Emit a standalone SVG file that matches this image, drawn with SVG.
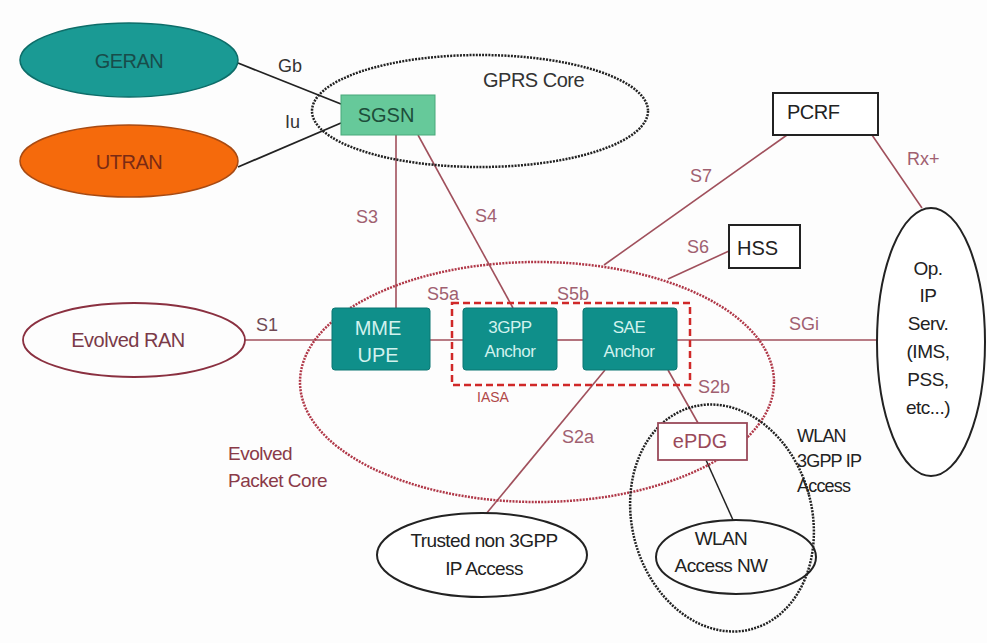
<svg xmlns="http://www.w3.org/2000/svg" width="987" height="643" viewBox="0 0 987 643">
<style>
text{font-family:"Liberation Sans",Arial,sans-serif;}
.lbl{font-size:18px;fill:#a06070;}
.dark{fill:#222;}
.mid{text-anchor:middle;}
.red{stroke:#a0505c;stroke-width:1.6;fill:none;}
.blk{stroke:#222;stroke-width:1.8;fill:none;}
.teal{fill:#0f8f8a;stroke:#0b7773;stroke-width:1;}
.boxt{fill:#d2f2ee;text-anchor:middle;}
.wbox{fill:#fff;stroke:#222;stroke-width:2;}
</style>
<rect width="987" height="643" fill="#fdfdfd"/>

<g id="connectors">
  <line class="blk" x1="238" y1="63" x2="341" y2="104"/>
  <line class="blk" x1="238" y1="167" x2="341" y2="123"/>
  <line class="red" x1="245" y1="340" x2="332" y2="340"/>
  <line class="red" x1="430" y1="340" x2="463" y2="340"/>
  <line class="red" x1="557" y1="340" x2="583" y2="340"/>
  <line class="red" x1="677" y1="340" x2="877" y2="340"/>
  <line class="red" x1="396" y1="135" x2="396" y2="308"/>
  <line class="red" x1="418" y1="135" x2="513" y2="308"/>
  <line class="red" x1="787" y1="135" x2="604" y2="265"/>
  <line class="red" x1="872" y1="135" x2="922" y2="208"/>
  <line class="red" x1="729" y1="251" x2="668" y2="279"/>
  <line class="red" x1="668" y1="370" x2="698" y2="423"/>
  <line class="red" x1="605" y1="370" x2="486" y2="514"/>
  <line stroke="#222" stroke-width="1.5" x1="706" y1="460" x2="733" y2="520"/>
  <text class="lbl" x="278" y="72" style="fill:#333">Gb</text>
  <text class="lbl" x="285" y="128" style="fill:#333">Iu</text>
  <text class="lbl" x="256" y="331" style="fill:#704a55">S1</text>
  <text class="lbl" x="356" y="223">S3</text>
  <text class="lbl" x="475" y="222">S4</text>
  <text class="lbl" x="427" y="300">S5a</text>
  <text class="lbl" x="557" y="300">S5b</text>
  <text class="lbl" x="690" y="182">S7</text>
  <text class="lbl" x="687" y="253">S6</text>
  <text class="lbl" x="907" y="165">Rx+</text>
  <text class="lbl" x="789" y="330">SGi</text>
  <text class="lbl" x="698" y="393">S2b</text>
  <text class="lbl" x="562" y="443">S2a</text>
</g>

<g id="gprs-core">
  <ellipse cx="480" cy="111" rx="168" ry="56" fill="none" stroke="#222" stroke-width="2.5" stroke-dasharray="2 1.2"/>
  <text x="483" y="87" font-size="20" fill="#333" letter-spacing="-0.5">GPRS Core</text>
</g>

<g id="epc">
  <ellipse cx="537" cy="382" rx="237" ry="120" fill="none" stroke="#b03848" stroke-width="2.5" stroke-dasharray="2 1.2"/>
  <text x="228" y="460" font-size="19" fill="#8a3a48" letter-spacing="-0.5">Evolved</text>
  <text x="228" y="487" font-size="19" fill="#8a3a48" letter-spacing="-0.5">Packet Core</text>
</g>

<g id="wlan-3gpp-ip-access">
  <ellipse cx="722" cy="518" rx="90" ry="115" transform="rotate(-15 722 518)" fill="none" stroke="#222" stroke-width="2.5" stroke-dasharray="2 1.2"/>
  <text x="797" y="442" font-size="18" fill="#222" letter-spacing="-0.8">WLAN</text>
  <text x="797" y="467" font-size="18" fill="#222" letter-spacing="-0.8">3GPP IP</text>
  <text x="797" y="492" font-size="18" fill="#222" letter-spacing="-0.8">Access</text>
</g>

<g id="iasa">
  <rect x="452" y="303" width="238" height="82" fill="none" stroke="#d02828" stroke-width="2.5" stroke-dasharray="7 4"/>
  <text x="477" y="402" font-size="14" fill="#b04848">IASA</text>
</g>

<g id="geran">
  <ellipse cx="129" cy="60" rx="109" ry="37" fill="#1a9a94" stroke="#0d6d69" stroke-width="1.5"/>
  <text class="mid" x="129" y="68" font-size="20" fill="#184c4a" letter-spacing="-0.5">GERAN</text>
</g>

<g id="utran">
  <ellipse cx="129" cy="161" rx="109" ry="36" fill="#f56a0c" stroke="#a84a12" stroke-width="1.5"/>
  <text class="mid" x="129" y="169" font-size="20" fill="#7a2a14" letter-spacing="-0.5">UTRAN</text>
</g>

<g id="sgsn">
  <rect x="341" y="95" width="94" height="40" fill="#66c99a" stroke="#48a87a" stroke-width="1"/>
  <text class="mid" x="386" y="122" font-size="20" fill="#1d4d3a">SGSN</text>
</g>

<g id="pcrf">
  <rect class="wbox" x="773" y="93" width="105" height="42"/>
  <text x="787" y="119" font-size="20" fill="#222" letter-spacing="-0.5">PCRF</text>
</g>

<g id="hss">
  <rect class="wbox" x="729" y="225" width="71" height="43"/>
  <text x="737" y="255" font-size="20" fill="#222">HSS</text>
</g>

<g id="op-ip-serv">
  <ellipse cx="931" cy="342" rx="54" ry="134" fill="#fff" stroke="#222" stroke-width="2"/>
  <g class="mid" font-size="19" fill="#222" letter-spacing="-0.5">
    <text x="928" y="275">Op.</text>
    <text x="928" y="302">IP</text>
    <text x="928" y="330">Serv.</text>
    <text x="928" y="358">(IMS,</text>
    <text x="928" y="386">PSS,</text>
    <text x="928" y="414">etc...)</text>
  </g>
</g>

<g id="evolved-ran">
  <ellipse cx="134" cy="340" rx="111" ry="37" fill="none" stroke="#8a3040" stroke-width="1.8"/>
  <text class="mid" x="128" y="347" font-size="20" fill="#7a3a48" letter-spacing="-0.5">Evolved RAN</text>
</g>

<g id="mme-upe">
  <rect class="teal" x="332" y="308" width="98" height="62" rx="3"/>
  <text class="boxt" x="378" y="335" font-size="20">MME</text>
  <text class="boxt" x="378" y="362" font-size="20">UPE</text>
</g>

<g id="3gpp-anchor">
  <rect class="teal" x="463" y="308" width="94" height="62" rx="3"/>
  <text class="boxt" x="510" y="333" font-size="17" letter-spacing="-0.5">3GPP</text>
  <text class="boxt" x="510" y="357" font-size="17" letter-spacing="-0.5">Anchor</text>
</g>

<g id="sae-anchor">
  <rect class="teal" x="583" y="308" width="94" height="62" rx="3"/>
  <text class="boxt" x="629" y="333" font-size="17" letter-spacing="-0.5">SAE</text>
  <text class="boxt" x="629" y="357" font-size="17" letter-spacing="-0.5">Anchor</text>
</g>

<g id="epdg">
  <rect x="658" y="423" width="89" height="37" fill="#fff" stroke="#9a4a5a" stroke-width="1.8"/>
  <text class="mid" x="700" y="448" font-size="20" fill="#9a4a5a">ePDG</text>
</g>

<g id="trusted-non-3gpp">
  <ellipse cx="482" cy="555" rx="105" ry="42" fill="#fff" stroke="#222" stroke-width="2"/>
  <text class="mid" x="484" y="547" font-size="19" fill="#222" letter-spacing="-0.6">Trusted non 3GPP</text>
  <text class="mid" x="484" y="575" font-size="19" fill="#222" letter-spacing="-0.6">IP Access</text>
</g>

<g id="wlan-access-nw">
  <ellipse cx="736" cy="557" rx="80" ry="37" fill="none" stroke="#222" stroke-width="2"/>
  <text class="mid" x="721" y="545" font-size="19" fill="#222" letter-spacing="-0.6">WLAN</text>
  <text class="mid" x="721" y="572" font-size="19" fill="#222" letter-spacing="-0.6">Access NW</text>
</g>
</svg>
